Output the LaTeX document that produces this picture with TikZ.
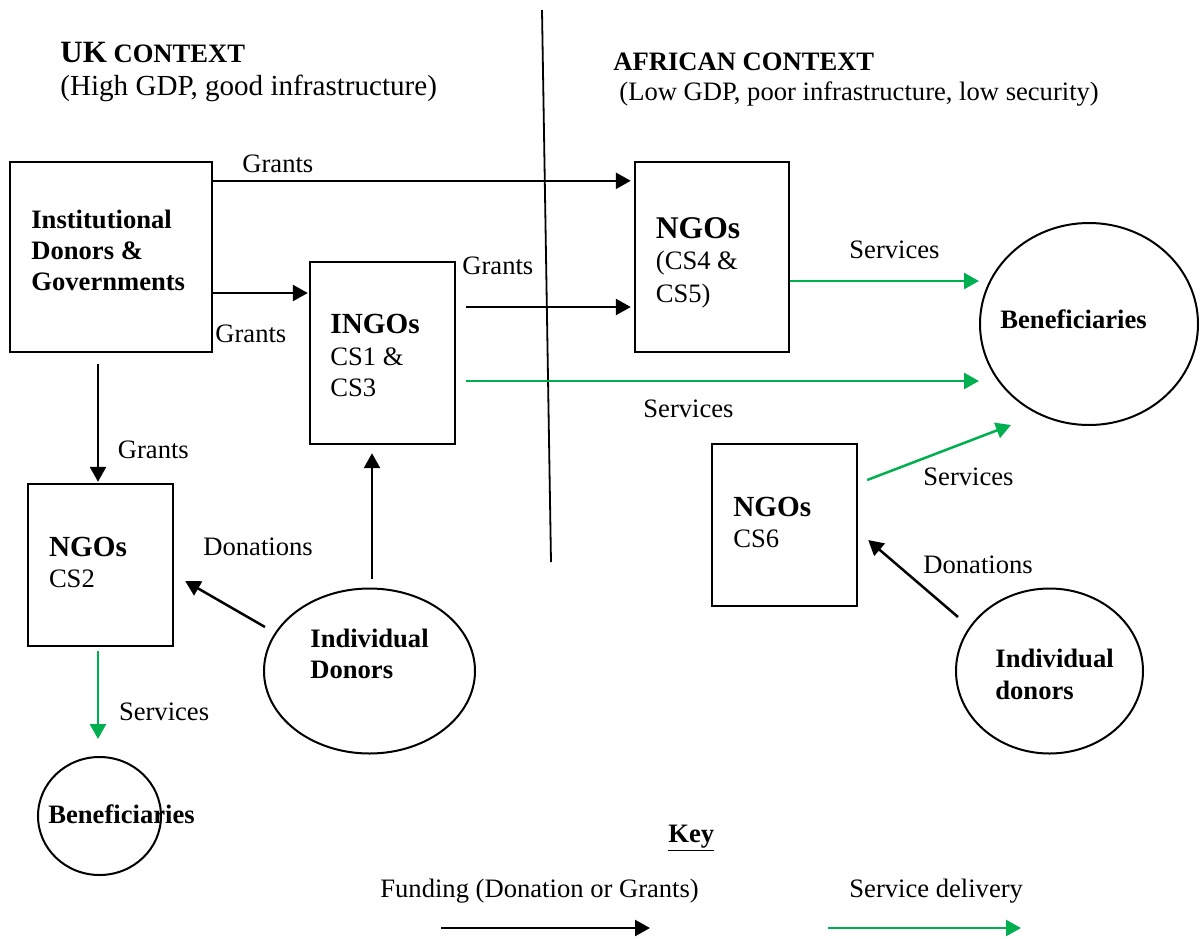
\documentclass[tikz,border=0pt]{standalone}
\usepackage{fontspec}
\setmainfont{Liberation Serif}
\usetikzlibrary{arrows.meta,shapes.geometric,calc}
\definecolor{svcgreen}{HTML}{00B050}

\tikzset{
  box/.style={draw, line width=1.2pt, rectangle, inner sep=0pt},
  oval/.style={draw, line width=1pt, ellipse, inner sep=0pt},
  txt/.style={anchor=base west, inner sep=0pt, font=\fontsize{13.3}{16}\selectfont},
  btxt/.style={anchor=base west, inner sep=0pt, font=\fontsize{13.3}{16}\selectfont\bfseries},
  big/.style={anchor=base west, inner sep=0pt, font=\fontsize{14.6}{17}\selectfont\bfseries},
  fund/.style={line width=1.25pt, -{Triangle[length=7.5pt,width=8pt]}},
  serv/.style={fund, color=svcgreen},
}

\begin{document}
\begin{tikzpicture}[x=0.5pt, y=-0.5pt]
  \useasboundingbox (0,0) rectangle (1200,938);

  % boundary between the two contexts
  \coordinate (div1) at (542,10);
  \coordinate (div2) at (551,562);
  \draw[line width=0.9pt] (div1) -- (div2);

  % context headings
  \node[btxt] (ukhead) at (60,62) {{\fontsize{15.5}{18}\selectfont UK} CONTEXT};
  \node[txt, font=\fontsize{14.55}{17}\selectfont] (uksub) at (60,95) {(High GDP, good infrastructure)};
  \node[btxt] (afhead) at (613,70) {AFRICAN CONTEXT};
  \node[txt] (afsub) at (619,100) {(Low GDP, poor infrastructure, low security)};

  % organisations
  \node[box, minimum width=101pt, minimum height=95pt] (inst) at (111,257) {};
  \node[btxt] (instA) at (31,228) {Institutional};
  \node[btxt] (instB) at (31,259) {Donors \&};
  \node[btxt] (instC) at (31,290) {Governments};

  \node[box, minimum width=72.5pt, minimum height=91pt] (ingo) at (382.5,353) {};
  \node[big] (ingoA) at (330,333) {INGOs};
  \node[txt] (ingoB) at (330,365) {CS1 \&};
  \node[txt] (ingoC) at (330,396) {CS3};

  \node[box, minimum width=77pt, minimum height=95pt] (ngo45) at (712,257) {};
  \node[big, font=\fontsize{15.8}{18}\selectfont\bfseries] (ngo45A) at (655.5,238) {NGOs};
  \node[txt] (ngo45B) at (655.5,269) {(CS4 \&};
  \node[txt] (ngo45C) at (655.5,302) {CS5)};

  \node[box, minimum width=72.5pt, minimum height=81pt] (ngo2) at (100.5,565) {};
  \node[big] (ngo2A) at (48.6,556) {NGOs};
  \node[txt] (ngo2B) at (48.6,587) {CS2};

  \node[box, minimum width=72.5pt, minimum height=81pt] (ngo6) at (784.5,525) {};
  \node[big] (ngo6A) at (733,516) {NGOs};
  \node[txt] (ngo6B) at (733,547) {CS6};

  % donors and beneficiaries
  \node[oval, minimum width=109pt, minimum height=101pt] (ben) at (1089,324) {};
  \node[btxt] (benT) at (1000,328) {Beneficiaries};

  \node[oval, minimum width=105.5pt, minimum height=82.5pt] (indL) at (369.5,671) {};
  \node[btxt] (indLA) at (310,647) {Individual};
  \node[btxt] (indLB) at (310,678) {Donors};

  \node[oval, minimum width=93.5pt, minimum height=82.5pt] (indR) at (1049.5,671) {};
  \node[btxt] (indRA) at (995,667) {Individual};
  \node[btxt] (indRB) at (995,699) {donors};

  \node[oval, minimum width=61.5pt, minimum height=59pt] (benS) at (99.5,816) {};
  \node[btxt] (benST) at (48,823) {Beneficiaries};

  % funding flows
  \draw[fund] ($(inst.north east)+(0,20)$) -- ($(ngo45.north west)+(-3,20)$);
  \node[txt] (g1) at (242,172) {Grants};
  \draw[fund] ($(inst.east)+(0,36)$) -- ($(ingo.west)+(-1,-60)$);
  \node[txt] (g2) at (215,342) {Grants};
  \draw[fund] ($(ingo.east)+(10,-46)$) -- ($(ngo45.west)+(-3,50)$);
  \node[txt] (g3) at (462,274) {Grants};
  \draw[fund] ($(inst.south)+(-13,11)$) -- ($(ngo2.north)+(-2.5,-1)$);
  \node[txt] (g4) at (117.5,458) {Grants};
  \draw[fund] ($(indL.center)+(-104.5,-44)$) -- ($(ngo2.east)+(11,16)$);
  \node[txt] (d1) at (203,555) {Donations};
  \draw[fund] ($(indL.north)+(2.5,-8.5)$) -- ($(ingo.south)+(-10.5,8)$);
  \draw[fund] ($(indR.center)+(-91.5,-54)$) -- ($(ngo6.east)+(10,15)$);
  \node[txt] (d2) at (923,573) {Donations};

  % service flows
  \draw[serv] ($(ngo45.east)+(0,24)$) -- ($(ben.west)+(0,-43)$);
  \node[txt] (s1) at (849,258) {Services};
  \draw[serv] ($(ingo.east)+(10,28)$) -- ($(ben.west)+(0,57)$);
  \node[txt] (s2) at (643,417) {Services};
  \draw[serv] ($(ngo6.east)+(9,-45)$) -- ($(ben.center)+(-78,101)$);
  \node[txt] (s3) at (923,485) {Services};
  \draw[serv] ($(ngo2.south)+(-2.5,4)$) -- ($(benS.north)+(-1.5,-17)$);
  \node[txt] (s4) at (118.6,720) {Services};

  % key
  \node[btxt] (key) at (668,842) {\underline{Key}};
  \node[txt] (keyF) at (380,897) {Funding (Donation or Grants)};
  \node[txt] (keyS) at (849,897) {Service delivery};
  \coordinate (kf1) at (441,928);
  \coordinate (kf2) at (650,928);
  \coordinate (ks1) at (828,928);
  \coordinate (ks2) at (1021,928);
  \draw[fund] (kf1) -- (kf2);
  \draw[serv] (ks1) -- (ks2);
\end{tikzpicture}
\end{document}
